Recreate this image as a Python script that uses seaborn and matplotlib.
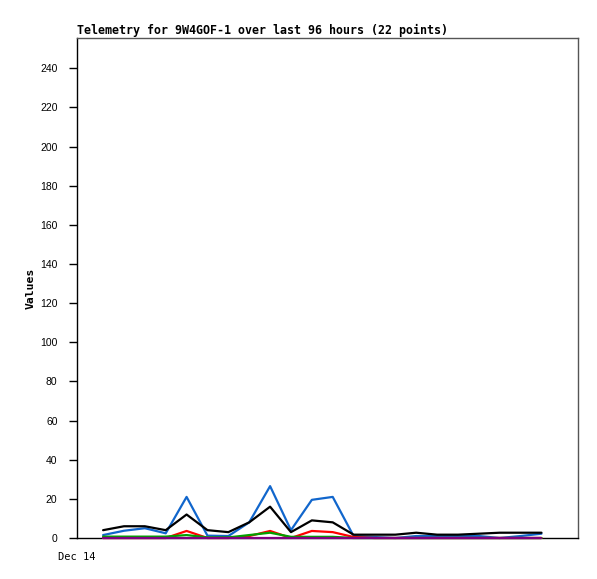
import pandas as pd
import numpy as np
import matplotlib
matplotlib.use("Agg")
import matplotlib.pyplot as plt
import seaborn as sns

# hours since Dec 14 00:00
hours = [5, 9, 13, 17, 21, 25, 29, 33, 37, 41, 45, 49, 53, 57, 61, 65, 69, 73, 77, 81, 85, 89]

blue_vals = [1.5, 3.7, 5, 2.4, 21, 1.2, 1, 8, 26.5, 4, 19.5, 21, 1, 0.5, 0, 1, 1, 1, 1, 0, 1, 2.2]
black_vals = [4, 6, 6, 4, 12, 4, 3, 8, 16, 3, 9, 8, 1.7, 1.7, 1.7, 2.7, 1.7, 1.7, 2.2, 2.7, 2.7, 2.7]
red_vals = [0, 0, 0, 0, 3.6, 0, 0, 1, 3.6, 0, 3.6, 3, 0.5, 0, 0, 0, 0, 0, 0, 0, 0, 0]
green_vals = [0.7, 0.7, 0.7, 0.7, 1.5, 0.3, 0.3, 1.5, 2.7, 0.6, 0.6, 0.6, 0, 0, 0, 0, 0, 0, 0, 0, 0, 0]
purple_vals = [0] * 22

SERIES = [
    ("blue", blue_vals, "#1166CC"),
    ("black", black_vals, "#000000"),
    ("red", red_vals, "#FF0000"),
    ("green", green_vals, "#00A000"),
    ("purple", purple_vals, "#800080"),
]

y_ticks = list(range(0, 241, 20))

sns.set_style("white")
plt.rcParams["text.color"] = "black"
plt.rcParams["axes.labelcolor"] = "black"
plt.rcParams["xtick.color"] = "black"
plt.rcParams["ytick.color"] = "black"

fig = plt.figure(figsize=(5.97, 5.79), dpi=100)
ax = fig.add_axes([77 / 597, 1 - 538 / 579, 501 / 597, 500 / 579])

for name, vals, col in SERIES:
    df = pd.DataFrame({"hour": hours, "value": vals})
    sns.lineplot(data=df, x="hour", y="value", color=col, linewidth=1.6, ax=ax,
                 zorder=3, clip_on=False)

ax.set_xlim(0, 96)
ax.set_ylim(0, 255.5)
ax.set_yticks(y_ticks)
ax.set_yticklabels([str(t) for t in y_ticks], fontsize=7.5, family="Liberation Sans")
ax.set_xticks([0])
ax.set_xticklabels(["Dec 14"], fontsize=7.5, family="DejaVu Sans Mono")
ax.tick_params(axis="y", length=6, width=1, color="black", pad=8, left=True)
ax.tick_params(axis="x", length=0, pad=10)

ax.set_xlabel("")
ax.set_ylabel("Values", fontsize=8.2, family="DejaVu Sans Mono", fontweight="bold", labelpad=3)
ax.set_title("Telemetry for 9W4GOF-1 over last 96 hours (22 points)", loc="left",
             fontsize=8.4, family="DejaVu Sans Mono", fontweight="bold", pad=3)

for side in ["top", "right"]:
    ax.spines[side].set_color("#555555")
    ax.spines[side].set_linewidth(1)
for side in ["left", "bottom"]:
    ax.spines[side].set_color("black")
    ax.spines[side].set_linewidth(1)

fig.savefig("out.png", dpi=100)
